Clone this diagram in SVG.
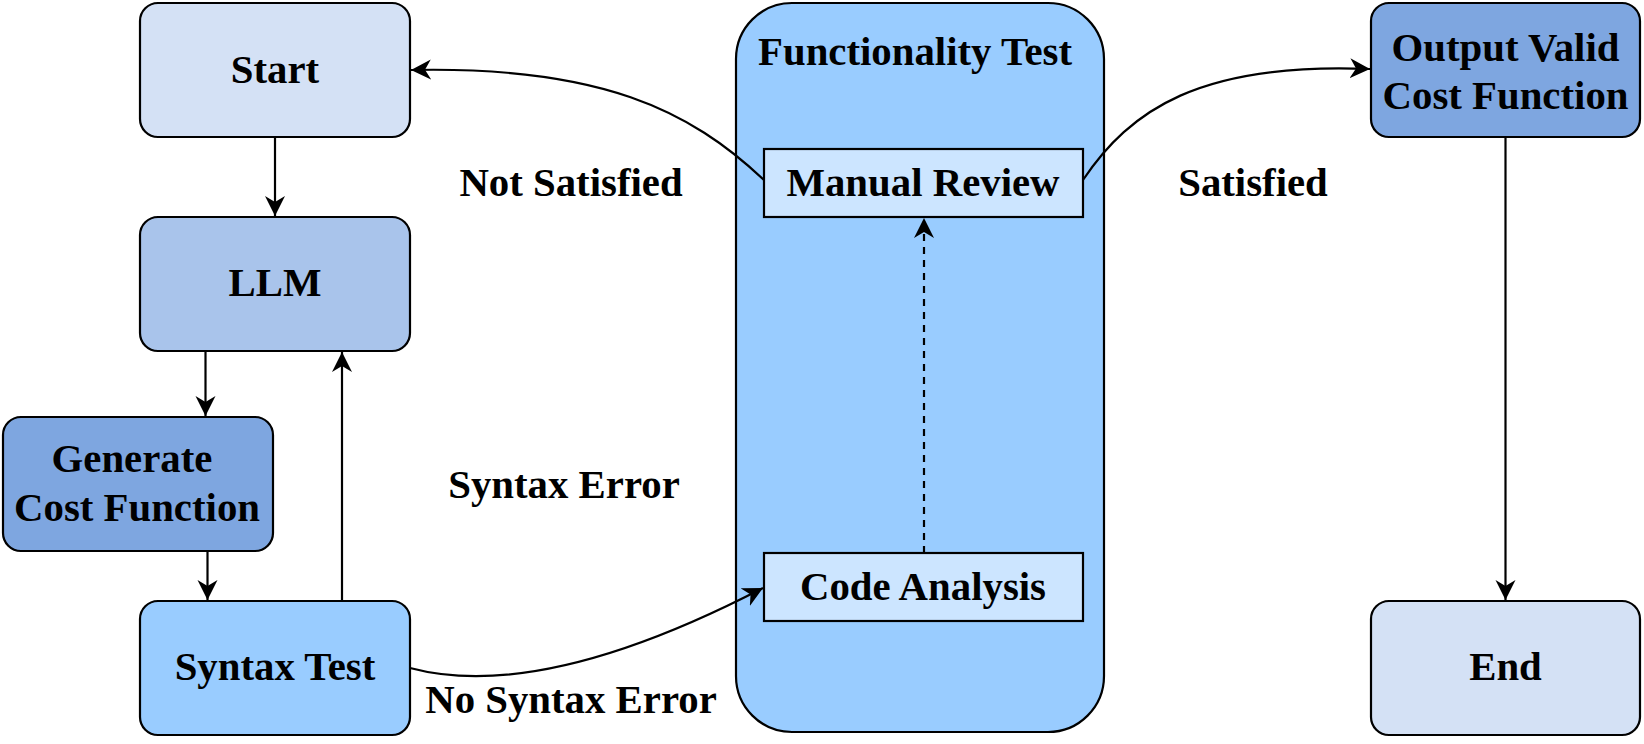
<svg xmlns="http://www.w3.org/2000/svg" width="1644" height="744" viewBox="0 0 1644 744">
<style>
.n{stroke:#000;stroke-width:2.2}
.t{font-family:"Liberation Serif","Times New Roman",serif;font-weight:bold;font-size:40.8px;fill:#000;text-anchor:middle}
.c{fill:none;stroke:#000;stroke-width:2.2}
</style>
<defs>
<marker id="ah" markerUnits="userSpaceOnUse" markerWidth="22" markerHeight="22" refX="20" refY="10" orient="auto">
<path d="M0,0 L20,10 L0,20 L6,10 Z" fill="#000"/>
</marker>
</defs>
<rect width="1644" height="744" fill="#fff"/>
<g id="functionality-test">
<rect class="n" x="736" y="3" width="368" height="729" rx="56" fill="#99CCFF"/>
<text class="t" x="915" y="65">Functionality Test</text>
</g>
<g id="start">
<rect class="n" x="140" y="3" width="270" height="134" rx="18" fill="#D4E1F5"/>
<text class="t" x="275" y="83">Start</text>
</g>
<g id="llm">
<rect class="n" x="140" y="217" width="270" height="134" rx="18" fill="#A9C4EB"/>
<text class="t" x="275" y="296">LLM</text>
</g>
<g id="generate">
<rect class="n" x="3" y="417" width="270" height="134" rx="18" fill="#7EA6E0"/>
<text class="t" x="132" y="472">Generate</text>
<text class="t" x="137" y="521">Cost Function</text>
</g>
<g id="syntax-test">
<rect class="n" x="140" y="601" width="270" height="134" rx="18" fill="#99CCFF"/>
<text class="t" x="275" y="680">Syntax Test</text>
</g>
<g id="manual-review">
<rect class="n" x="764" y="149" width="319" height="68" fill="#CCE5FF"/>
<text class="t" x="923" y="196">Manual Review</text>
</g>
<g id="code-analysis">
<rect class="n" x="764" y="553" width="319" height="68" fill="#CCE5FF"/>
<text class="t" x="923" y="600">Code Analysis</text>
</g>
<g id="output-valid">
<rect class="n" x="1371" y="3" width="269" height="134" rx="18" fill="#7EA6E0"/>
<text class="t" x="1505.5" y="61">Output Valid</text>
<text class="t" x="1505.5" y="109">Cost Function</text>
</g>
<g id="end">
<rect class="n" x="1371" y="601" width="269" height="134" rx="18" fill="#D4E1F5"/>
<text class="t" x="1505.5" y="680">End</text>
</g>
<g id="connectors">
<path class="c" d="M275,137 L275,216" marker-end="url(#ah)"/>
<path class="c" d="M205.5,351 L205.5,416" marker-end="url(#ah)"/>
<path class="c" d="M207.5,551 L207.5,600" marker-end="url(#ah)"/>
<path class="c" d="M342,601 L342,352" marker-end="url(#ah)"/>
<path class="c" d="M924,553 L924,218" stroke-dasharray="7 6" marker-end="url(#ah)"/>
<path class="c" d="M764,180 C690,110 600,66 411,70" marker-end="url(#ah)"/>
<path class="c" d="M1083,180 C1130,110 1200,62 1370,69" marker-end="url(#ah)"/>
<path class="c" d="M410,668 C500,692 620,662 763,588" marker-end="url(#ah)"/>
<path class="c" d="M1505.5,137 L1505.5,600" marker-end="url(#ah)"/>
<text class="t" x="571" y="196">Not Satisfied</text>
<text class="t" x="1253" y="196">Satisfied</text>
<text class="t" x="564" y="498">Syntax Error</text>
<text class="t" x="571" y="713">No Syntax Error</text>
</g>
</svg>
